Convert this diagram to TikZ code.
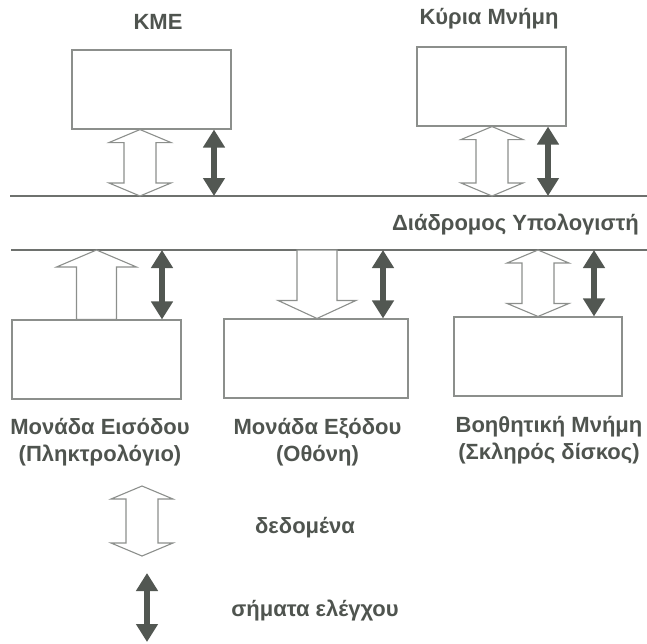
\documentclass[tikz,border=0pt]{standalone}
\usepackage{fontspec}
\setmainfont{Liberation Sans}[BoldFont={Liberation Sans Bold}]
\newfontfamily\unitfont{Liberation Sans Bold}
\usepackage{tikz}
\usetikzlibrary{positioning, calc, arrows.meta}
\definecolor{txtgray}{HTML}{4F544F}
\definecolor{linegray}{HTML}{8C8F8C}
\definecolor{busgray}{HTML}{6E716E}
\definecolor{ctrlgray}{HTML}{525752}
\tikzstyle{box} = [draw=linegray, line width=1.1pt, minimum height=79pt, inner sep=0pt]
\tikzstyle{lbl} = [text=txtgray, font=\unitfont\fontsize{22}{27}\selectfont, inner sep=0pt, align=center]
\tikzstyle{bus} = [draw=busgray, line width=1.4pt]
\tikzstyle{ctrl} = [draw=ctrlgray, line width=6.5pt, {Triangle[length=18pt,width=21pt]}-{Triangle[length=18pt,width=21pt]}]
\tikzstyle{data} = [draw=linegray, line width=1.1pt, fill=white, line join=miter]
% hollow arrows: #1 upper end, #2 lower end
\newcommand{\hollowdbl}[2]{%
  \draw[data] (#1) -- ($(#1)+(31,13)$) -- ($(#1)+(16,13)$) -- ($(#2)+(16,-13)$)
    -- ($(#2)+(31,-13)$) -- (#2) -- ($(#2)+(-31,-13)$) -- ($(#2)+(-16,-13)$)
    -- ($(#1)+(-16,13)$) -- ($(#1)+(-31,13)$) -- cycle;}
\newcommand{\hollowup}[2]{%
  \draw[data] (#1) -- ($(#1)+(40,17)$) -- ($(#1)+(20,17)$) -- ($(#2)+(20,0)$)
    -- ($(#2)+(-20,0)$) -- ($(#1)+(-20,17)$) -- ($(#1)+(-40,17)$) -- cycle;}
\newcommand{\hollowdown}[2]{%
  \draw[data] (#2) -- ($(#2)+(39,-18)$) -- ($(#2)+(20,-18)$) -- ($(#1)+(20,0)$)
    -- ($(#1)+(-20,0)$) -- ($(#2)+(-20,-18)$) -- ($(#2)+(-39,-18)$) -- cycle;}

\begin{document}
\begin{tikzpicture}[x=1pt, y=-1pt]
    \useasboundingbox (0,0) rectangle (647,643);
    % bus
    \coordinate (busU) at (0,196);
    \coordinate (busL) at (0,250);
    \draw[bus] (10,0 |- busU) -- (647,0 |- busU);
    \draw[bus] (11,0 |- busL) -- (647,0 |- busL);
    \node[lbl, anchor=base east] (busname) at (639,230) {Διάδρομος Υπολογιστή};

    % upper units
    \node[box, minimum width=159pt] (kme) at (151.5,89.5) {};
    \node[box, minimum width=149pt] (mem) at (491.5,86.5) {};
    \node[lbl, anchor=base] (kmename) at (158,29) {ΚΜΕ};
    \node[lbl, anchor=base] (memname) at (489,24) {Κύρια Μνήμη};
    \hollowdbl{kme.south -| 140,0}{busU -| 140,0}
    \hollowdbl{mem.south -| 492,0}{busU -| 492,0}
    \draw[ctrl] (kme.south -| 214,0) -- (busU -| 214,0);
    \draw[ctrl] (mem.south -| 548,0) -- (busU -| 548,0);

    % lower units
    \node[box, minimum width=169pt] (inp) at (96.5,359.5) {};
    \node[box, minimum width=184pt] (outp) at (316,358.5) {};
    \node[box, minimum width=168pt] (aux) at (538,356.5) {};
    \node[lbl, below=19pt of inp, xshift=3.5pt] (inpname) {Μονάδα Εισόδου\\(Πληκτρολόγιο)};
    \node[lbl, below=20pt of outp, xshift=1.5pt] (outpname) {Μονάδα Εξόδου\\(Οθόνη)};
    \node[lbl, below=20pt of aux, xshift=11pt] (auxname) {Βοηθητική Μνήμη\\(Σκληρός δίσκος)};
    \hollowup{busL -| 96.5,0}{inp.north -| 96.5,0}
    \hollowdown{busL -| 317,0}{outp.north -| 317,0}
    \hollowdbl{busL -| 538,0}{aux.north -| 538,0}
    \draw[ctrl] (busL -| 162,0) -- (inp.north -| 162,0);
    \draw[ctrl] (busL -| 383,0) -- (outp.north -| 383,0);
    \draw[ctrl] (busL -| 594,0) -- (aux.north -| 594,0);

    % legend
    \coordinate (legD1) at (142,486);
    \coordinate (legD2) at (142,556);
    \coordinate (legC1) at (147,573);
    \coordinate (legC2) at (147,642);
    \hollowdbl{legD1}{legD2}
    \draw[ctrl] (legC1) -- (legC2);
    \node[lbl, anchor=base] (dataname) at (305,533) {δεδομένα};
    \node[lbl, anchor=base] (ctrlname) at (315,616) {σήματα ελέγχου};
\end{tikzpicture}
\end{document}
